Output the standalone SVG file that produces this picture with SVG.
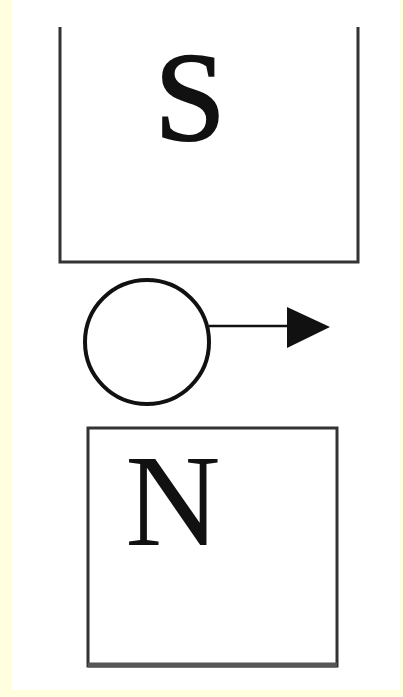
<svg xmlns="http://www.w3.org/2000/svg" width="403" height="697" viewBox="0 0 403 697">
<style>
.ln{fill:none;stroke:#333;stroke-width:3}
.lbl{font-family:"Liberation Serif","Times New Roman",serif;fill:#111}
</style>
<defs>
<marker id="ah" viewBox="0 0 10 10" refX="10" refY="5" markerWidth="10" markerHeight="10" markerUnits="userSpaceOnUse" orient="auto">
<path d="M0,0 L10,5 L0,10 Z" fill="#111"/>
</marker>
</defs>
<rect x="0" y="0" width="403" height="697" fill="#FFFFE0"/>
<rect x="12" y="0" width="388" height="690" fill="#FFFFFF"/>
<g id="magnetS">
<path class="ln" d="M60,27 V262 H358 V27"/>
<text class="lbl" x="190" y="140" font-size="128" text-anchor="middle" stroke="#111" stroke-width="2">S</text>
</g>
<g id="ball">
<circle cx="147" cy="342" r="62" fill="none" stroke="#111" stroke-width="4"/>
</g>
<g id="connectors">
<line x1="209" y1="326" x2="290" y2="326" stroke="#111" stroke-width="2.5"/>
<path d="M287,307 L330,327 L287,348 Z" fill="#111"/>
</g>
<g id="magnetN">
<rect class="ln" x="88" y="428" width="249" height="238"/>
<line x1="88" y1="665" x2="337" y2="665" stroke="#555" stroke-width="5"/>
<text class="lbl" x="173" y="545" font-size="132" text-anchor="middle">N</text>
</g>
</svg>
